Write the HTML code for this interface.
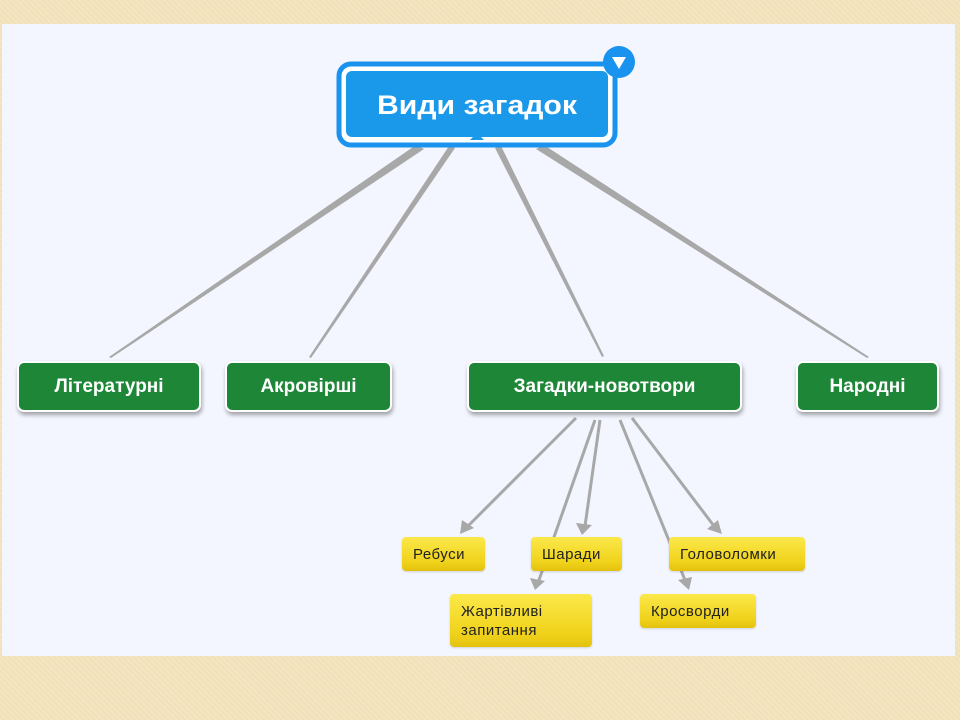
<!DOCTYPE html>
<html><head><meta charset="utf-8"><style>
html,body{margin:0;padding:0}
body{width:960px;height:720px;position:relative;overflow:hidden;background:#f2e1b8;
background-image:repeating-linear-gradient(45deg,rgba(255,255,255,.15) 0 2px,transparent 2px 4px);
font-family:"Liberation Sans","DejaVu Sans",sans-serif}
.panel{position:absolute;left:2px;top:24px;width:953px;height:632px;background:#f3f6fe}
.g{position:absolute;top:361px;background:#1d8637;border:2px solid #fff;border-radius:7px;
box-shadow:1px 3px 4px rgba(0,0,0,.35);color:#fff;font-weight:bold;font-size:19px;display:flex;align-items:center;justify-content:center;box-sizing:border-box;height:51px}
.y{position:absolute;background:linear-gradient(#fbe84a,#f0d21a 75%,#e3c20f);border-radius:4px;color:#222;font-size:15px;box-sizing:border-box;padding-left:11px;display:flex;align-items:center;box-shadow:0 1px 2px rgba(0,0,0,.15);letter-spacing:.5px}
</style></head><body>
<div class="panel"></div>
<svg width="960" height="720" style="position:absolute;left:0;top:0">
<g fill="#a8a8a8">
<polygon points="416,145 424,149 111,358 109,357"/>
<polygon points="449,146 455,148 311,358 309,357"/>
<polygon points="495,148 501,146 604,356 602,357"/>
<polygon points="536,149 544,145 869,357 867,358"/>
</g>
<g stroke="#a8a8a8" fill="none" stroke-width="3">
<line x1="576" y1="418" x2="468" y2="526"/>
<line x1="595" y1="420" x2="539" y2="580"/>
<line x1="600" y1="420" x2="585" y2="526"/>
<line x1="620" y1="420" x2="685" y2="580"/>
<line x1="632" y1="418" x2="714" y2="526"/>
</g>
<g fill="#a8a8a8">
<polygon points="460,534 462,520 474,528"/>
<polygon points="582,535 576,523 592,525"/>
<polygon points="535,590 530,578 545,581"/>
<polygon points="689,590 678,580 692,577"/>
<polygon points="722,534 707,529 718,520"/>
</g>
<rect x="339" y="64" width="276" height="81" rx="12" fill="#fff" stroke="#1a93ee" stroke-width="5"/>
<rect x="346" y="71" width="262" height="66" rx="6" fill="#1a98ea"/>
<polygon points="470,140 477,133 484,140" fill="#1a98ea"/>
<circle cx="619" cy="62" r="16" fill="#1a93ee"/>
<polygon points="612,57 626,57 619,69" fill="#fff"/>
<text x="477" y="114" text-anchor="middle" fill="#fff" font-family="Liberation Sans,sans-serif" font-weight="bold" font-size="27" textLength="200" lengthAdjust="spacingAndGlyphs">Види загадок</text>
</svg>
<div class="g" style="left:17px;width:184px">Літературні</div>
<div class="g" style="left:225px;width:167px">Акровірші</div>
<div class="g" style="left:467px;width:275px">Загадки-новотвори</div>
<div class="g" style="left:796px;width:143px">Народні</div>
<div class="y" style="left:402px;top:537px;width:83px;height:34px">Ребуси</div>
<div class="y" style="left:531px;top:537px;width:91px;height:34px">Шаради</div>
<div class="y" style="left:669px;top:537px;width:136px;height:34px">Головоломки</div>
<div class="y" style="left:450px;top:594px;width:142px;height:53px;line-height:19px">Жартівливі<br>запитання</div>
<div class="y" style="left:640px;top:594px;width:116px;height:34px">Кросворди</div>
</body></html>
